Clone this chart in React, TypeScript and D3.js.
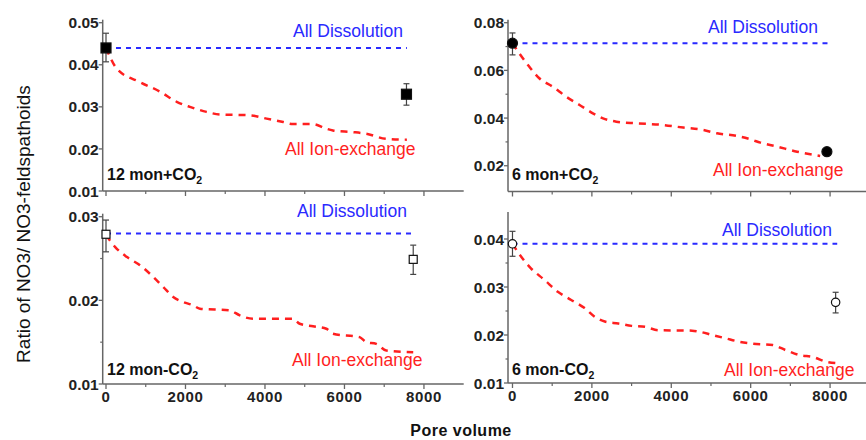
import React from "react";
import * as d3 from "d3";

// ---------- data ----------
const xTickValues = [0, 2000, 4000, 6000, 8000];
const xMinorValues = [1000, 3000, 5000, 7000];

// 12 mon + CO2
const ion12pX = [0, 270, 850, 1360, 1780, 2110, 2530, 2860, 3620, 4040, 4460, 4710, 5210, 5540, 5710, 6210, 6550, 7050, 7570];
const ion12pY = [0.044, 0.0391, 0.0359, 0.0336, 0.0312, 0.03, 0.0288, 0.0282, 0.028, 0.0272, 0.0264, 0.0259, 0.0259, 0.0248, 0.0244, 0.024, 0.0236, 0.0224, 0.0222];
const diss12p = { value: 0.044, end: 7570 };
const obs12pX = [0, 7560];
const obs12pY = [0.044, 0.033];
const obs12pLo = [0.0407, 0.0304];
const obs12pHi = [0.0475, 0.0355];

// 6 mon + CO2
const ion6pX = [0, 170, 420, 675, 1010, 1350, 1690, 2025, 2280, 2615, 3120, 3800, 4300, 4810, 5150, 5650, 5990, 6245, 6670, 7170, 7750];
const ion6pY = [0.0714, 0.0672, 0.0616, 0.0567, 0.0532, 0.049, 0.0455, 0.042, 0.0399, 0.0385, 0.0378, 0.0371, 0.036, 0.035, 0.0336, 0.0325, 0.0311, 0.0297, 0.028, 0.0259, 0.0241];
const diss6p = { value: 0.0714, end: 7955 };
const obs6pX = [0, 7920];
const obs6pY = [0.0714, 0.0259];
const obs6pLo = [0.0665, 0.0259];
const obs6pHi = [0.0757, 0.0259];

// 12 mon - CO2
const ion12mX = [0, 226, 519, 854, 1189, 1440, 1692, 1943, 2194, 2362, 3116, 3367, 3702, 4707, 4874, 5209, 5544, 5712, 6382, 6549, 6801, 7052, 7730];
const ion12mY = [0.0278, 0.0264, 0.0252, 0.0242, 0.0228, 0.0216, 0.0204, 0.0198, 0.0194, 0.019, 0.0188, 0.0182, 0.0178, 0.0178, 0.0172, 0.0169, 0.0166, 0.016, 0.0156, 0.015, 0.0148, 0.014, 0.0138];
const diss12m = { value: 0.028, end: 7690 };
const obs12mX = [0, 7730];
const obs12mY = [0.0279, 0.0249];
const obs12mLo = [0.0258, 0.0231];
const obs12mHi = [0.0296, 0.0266];

// 6 mon - CO2
const ion6mX = [0, 211, 464, 802, 1142, 1480, 1817, 2071, 2325, 2665, 3003, 3340, 3680, 4525, 4695, 5033, 5371, 5711, 6048, 6556, 6894, 7234, 7571, 7909, 8249];
const ion6mY = [0.039, 0.0364, 0.0339, 0.0315, 0.029, 0.0273, 0.0256, 0.0238, 0.0228, 0.0224, 0.0219, 0.0217, 0.021, 0.0209, 0.0207, 0.02, 0.0193, 0.0186, 0.0182, 0.0179, 0.0168, 0.0158, 0.0154, 0.0144, 0.0141];
const diss6m = { value: 0.039, end: 8180 };
const obs6mX = [0, 8140];
const obs6mY = [0.039, 0.0268];
const obs6mLo = [0.0364, 0.0246];
const obs6mHi = [0.0416, 0.0289];

const panelLabels = ["12 mon+CO", "6 mon+CO", "12 mon-CO", "6 mon-CO"];
const yTicks12p = [0.01, 0.02, 0.03, 0.04, 0.05];
const yTicks6p = [0.02, 0.04, 0.06, 0.08];
const yMinor6p = [0.03, 0.05, 0.07];
const yTicks12m = [0.01, 0.02, 0.03];
const yMinor12m = [0.015, 0.025];
const yTicks6m = [0.01, 0.02, 0.03, 0.04];
const yMinor6m = [0.015, 0.025, 0.035];

const FONT = "'Liberation Sans', Arial, Helvetica, sans-serif";
const BLUE = "#2a2aff";
const RED = "#ff1f1f";
const AXIS = "#666";

type PanelDef = {
  label: string;
  xDomain: [number, number];
  xRange: [number, number];
  yDomain: [number, number];
  yRange: [number, number];
  yTicks: number[];
  yMinor: number[];
  showXLabels: boolean;
  ionX: number[];
  ionY: number[];
  diss: { value: number; end: number };
  obsX: number[];
  obsY: number[];
  obsLo: number[];
  obsHi: number[];
  marker: "fsq" | "fci" | "osq" | "oci";
  dissText: [number, number];
  ionText: [number, number];
  labelPos: [number, number];
};

const panels: PanelDef[] = [
  {
    label: panelLabels[0], xDomain: [-83, 9000], xRange: [102.7, 463.7],
    yDomain: [0.01, 0.05], yRange: [191, 22.7], yTicks: yTicks12p, yMinor: [],
    showXLabels: false, ionX: ion12pX, ionY: ion12pY, diss: diss12p,
    obsX: obs12pX, obsY: obs12pY, obsLo: obs12pLo, obsHi: obs12pHi, marker: "fsq",
    dissText: [293, 37], ionText: [285, 155], labelPos: [107, 180],
  },
  {
    label: panelLabels[1], xDomain: [-113, 8905], xRange: [508, 866],
    yDomain: [0.0092, 0.08], yRange: [191.5, 22.7], yTicks: yTicks6p, yMinor: yMinor6p,
    showXLabels: false, ionX: ion6pX, ionY: ion6pY, diss: diss6p,
    obsX: obs6pX, obsY: obs6pY, obsLo: obs6pLo, obsHi: obs6pHi, marker: "fci",
    dissText: [708, 33], ionText: [713, 176], labelPos: [512, 180],
  },
  {
    label: panelLabels[2], xDomain: [-83, 9000], xRange: [102.7, 463.7],
    yDomain: [0.01, 0.03], yRange: [384, 216.7], yTicks: yTicks12m, yMinor: yMinor12m,
    showXLabels: true, ionX: ion12mX, ionY: ion12mY, diss: diss12m,
    obsX: obs12mX, obsY: obs12mY, obsLo: obs12mLo, obsHi: obs12mHi, marker: "osq",
    dissText: [297, 217], ionText: [292, 366], labelPos: [107, 375],
  },
  {
    label: panelLabels[3], xDomain: [-113, 8905], xRange: [508, 866],
    yDomain: [0.01, 0.045], yRange: [383, 215], yTicks: yTicks6m, yMinor: yMinor6m,
    showXLabels: true, ionX: ion6mX, ionY: ion6mY, diss: diss6m,
    obsX: obs6mX, obsY: obs6mY, obsLo: obs6mLo, obsHi: obs6mHi, marker: "oci",
    dissText: [722, 236], ionText: [724, 376], labelPos: [512, 375],
  },
];

function Panel({ p }: { p: PanelDef }) {
  const x = d3.scaleLinear().domain(p.xDomain).range(p.xRange);
  const y = d3.scaleLinear().domain(p.yDomain).range(p.yRange);
  const axisY = p.yRange[0];
  const axisX = p.xRange[0];
  const ionPts: [number, number][] = p.ionX.map((v, i) => [v, p.ionY[i]]);
  const line = d3
    .line<[number, number]>()
    .x((d) => x(d[0]))
    .y((d) => y(d[1]))
    .curve(d3.curveMonotoneX);
  const fmt = d3.format(".2f");

  const markerEl = (cx: number, cy: number, key: string) => {
    const filled = p.marker === "fsq" || p.marker === "fci";
    const fill = filled ? "#000" : "#fff";
    const stroke = "#111";
    if (p.marker === "fsq" || p.marker === "osq") {
      const s = filled ? 10 : 8;
      return <rect key={key} x={cx - s / 2} y={cy - s / 2} width={s} height={s} fill={fill} stroke={stroke} strokeWidth={1.2} />;
    }
    return <circle key={key} cx={cx} cy={cy} r={filled ? 5 : 4.2} fill={fill} stroke={stroke} strokeWidth={1.2} />;
  };

  return (
    <g>
      {/* axes */}
      <line x1={axisX} x2={axisX} y1={axisY} y2={p.yRange[1] - 3} stroke={AXIS} strokeWidth={1.5} />
      <line x1={axisX} x2={p.xRange[1]} y1={axisY} y2={axisY} stroke={AXIS} strokeWidth={1.5} />
      {p.yTicks.map((t) => (
        <g key={"yt" + t}>
          <line x1={axisX - 4} x2={axisX} y1={y(t)} y2={y(t)} stroke={AXIS} strokeWidth={1.3} />
          <text x={axisX - 4} y={y(t)} dy="0.36em" textAnchor="end" fontFamily={FONT} fontWeight="bold" fontSize={15.5} fill="#222">
            {fmt(t)}
          </text>
        </g>
      ))}
      {p.yMinor.map((t) => (
        <line key={"ym" + t} x1={axisX - 2.5} x2={axisX} y1={y(t)} y2={y(t)} stroke={AXIS} strokeWidth={1.2} />
      ))}
      {xTickValues.map((t) => (
        <g key={"xt" + t}>
          <line x1={x(t)} x2={x(t)} y1={axisY} y2={axisY + 5} stroke={AXIS} strokeWidth={1.3} />
          {p.showXLabels && (
            <text x={x(t)} y={axisY + 18} textAnchor="middle" fontFamily={FONT} fontWeight="bold" fontSize={15} fill="#222" letterSpacing={0.6}>
              {t}
            </text>
          )}
        </g>
      ))}
      {xMinorValues.map((t) => (
        <line key={"xm" + t} x1={x(t)} x2={x(t)} y1={axisY} y2={axisY + 3} stroke={AXIS} strokeWidth={1.2} />
      ))}

      {/* model lines */}
      <line x1={x(0)} x2={x(p.diss.end)} y1={y(p.diss.value)} y2={y(p.diss.value)} stroke={BLUE} strokeWidth={2} strokeDasharray="5,5" />
      <path d={line(ionPts) || ""} fill="none" stroke={RED} strokeWidth={2.5} strokeDasharray="7,6" />

      {/* observations */}
      {p.obsX.map((v, i) => (
        <g key={"eb" + i}>
          {p.obsHi[i] > p.obsLo[i] && (
            <g stroke="#444" strokeWidth={1.2}>
              <line x1={x(v)} x2={x(v)} y1={y(p.obsLo[i])} y2={y(p.obsHi[i])} />
              <line x1={x(v) - 3} x2={x(v) + 3} y1={y(p.obsLo[i])} y2={y(p.obsLo[i])} />
              <line x1={x(v) - 3} x2={x(v) + 3} y1={y(p.obsHi[i])} y2={y(p.obsHi[i])} />
            </g>
          )}
        </g>
      ))}
      {p.obsX.map((v, i) => markerEl(x(v), y(p.obsY[i]), "m" + i))}

      {/* texts */}
      <text x={p.dissText[0]} y={p.dissText[1]} fontFamily={FONT} fontSize={17.5} fill={BLUE}>All Dissolution</text>
      <text x={p.ionText[0]} y={p.ionText[1]} fontFamily={FONT} fontSize={17.5} fill={RED}>All Ion-exchange</text>
      <text x={p.labelPos[0]} y={p.labelPos[1]} fontFamily={FONT} fontWeight="bold" fontSize={16} fill="#111">
        {p.label}
        <tspan fontSize={10.5} dy={4}>2</tspan>
      </text>
    </g>
  );
}

export default function App() {
  return (
    <svg width={866} height={440} style={{ position: "absolute", left: 0, top: 0, background: "#fff" }}>
      <rect width={866} height={440} fill="#fff" />
      {panels.map((p, i) => (
        <Panel key={i} p={p} />
      ))}
      <text
        transform="translate(30,224) rotate(-90)"
        textAnchor="middle"
        fontFamily={FONT}
        fontSize={19}
        fill="#111"
      >
        Ratio of NO3/ NO3-feldspathoids
      </text>
      <text x={461} y={436} textAnchor="middle" fontFamily={FONT} fontWeight="bold" fontSize={16} fill="#111" letterSpacing={0.5}>
        Pore volume
      </text>
    </svg>
  );
}
